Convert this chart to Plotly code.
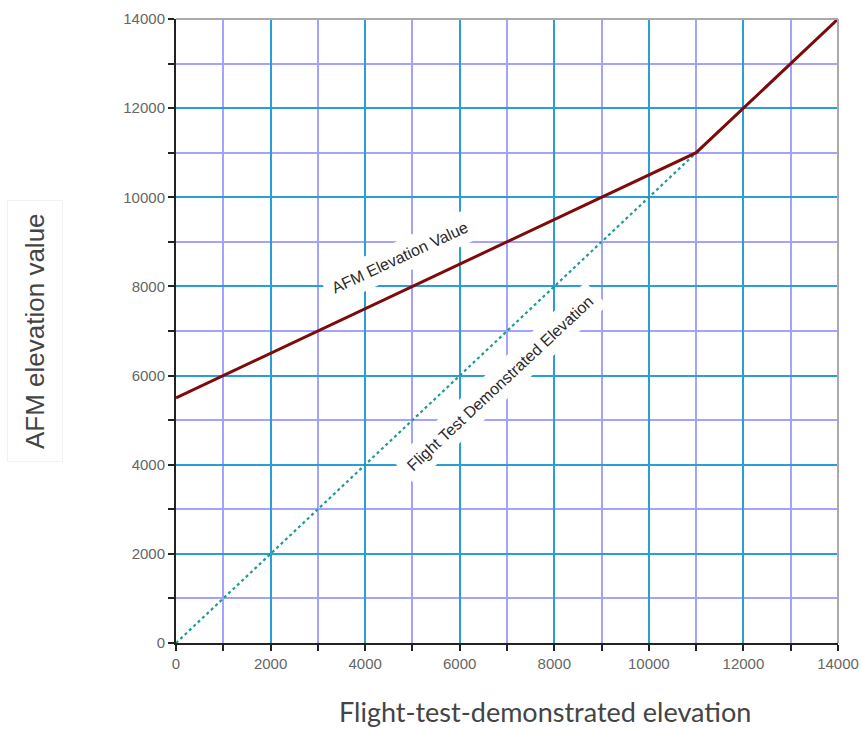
import plotly.graph_objects as go

# Data
x_afm = [0, 11000, 14000]
y_afm = [5500, 11000, 14000]
x_flight = [0, 14000]
y_flight = [0, 14000]
tick_vals = [0, 2000, 4000, 6000, 8000, 10000, 12000, 14000]
tick_text = ["0", "2000", "4000", "6000", "8000", "10000", "12000", "14000"]

fig = go.Figure()
fig.add_trace(go.Scatter(x=x_flight, y=y_flight, mode="lines",
                         line=dict(color="#1f9a8e", width=2.2, dash="dot"),
                         showlegend=False, hoverinfo="skip"))
fig.add_trace(go.Scatter(x=x_afm, y=y_afm, mode="lines",
                         line=dict(color="#7f0a0a", width=3),
                         showlegend=False, hoverinfo="skip"))

axis_common = dict(
    range=[0, 14000], tickvals=tick_vals, ticktext=tick_text,
    showline=True, linecolor="#222222", linewidth=2,
    ticks="outside", ticklen=6, tickwidth=2, tickcolor="#222222",
    showgrid=True, gridcolor="#2a9fd6", gridwidth=1.6,
    zeroline=False, automargin=False,
    tickfont=dict(family="Liberation Sans, Arial", size=15, color="#666666"),
    minor=dict(dtick=1000, tick0=0, ticks="outside", ticklen=6, tickwidth=2,
               tickcolor="#222222", showgrid=True, gridcolor="#a3a3ff", gridwidth=1.6),
)

fig.update_xaxes(**axis_common)
fig.update_yaxes(**axis_common)

# top & right grey border
fig.add_shape(type="line", xref="paper", yref="paper", x0=0, x1=1, y0=1, y1=1,
              line=dict(color="#aaaaaa", width=2))
fig.add_shape(type="line", xref="paper", yref="paper", x0=1, x1=1, y0=0, y1=1,
              line=dict(color="#aaaaaa", width=2))

fig.add_annotation(x=4736, y=8640, xref="x", yref="y", text="AFM Elevation Value",
                   textangle=-25, showarrow=False, bgcolor="white", borderpad=7,
                   font=dict(family="Liberation Sans, Arial", size=16, color="#2a2a2a"))
fig.add_annotation(x=6850, y=5830, xref="x", yref="y", text="Flight Test Demonstrated Elevation",
                   textangle=-43, showarrow=False, bgcolor="white", borderpad=7,
                   font=dict(family="Liberation Sans, Arial", size=16, color="#2a2a2a"))

fig.add_annotation(x=0.557, y=-0.14, xref="paper", yref="paper",
                   text="Flight-test-demonstrated elevation", showarrow=False,
                   font=dict(family="Lato, Open Sans", size=27, color="#444444"))
fig.add_annotation(x=-0.213, y=0.50, xref="paper", yref="paper",
                   xanchor="center", yanchor="middle",
                   text="AFM elevation value", textangle=-90, showarrow=False,
                   bordercolor="#f2f2f2", borderwidth=1, borderpad=12,
                   font=dict(family="Liberation Sans, Arial", size=26, color="#444444"))

fig.update_layout(width=861, height=729, plot_bgcolor="white", paper_bgcolor="white",
                  margin=dict(l=176, r=23, t=19, b=86, autoexpand=False), showlegend=False)

fig.write_html("out.html", config={"displayModeBar": False},
               post_script="document.body.style.margin='0px';document.body.style.overflow='hidden';")
